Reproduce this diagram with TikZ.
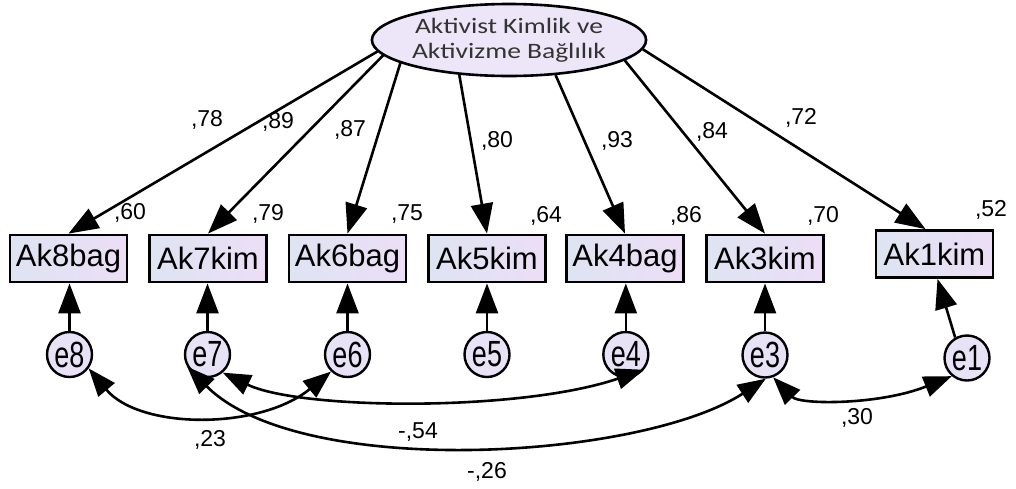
\documentclass[tikz,border=0pt]{standalone}
\usepackage{fontspec}
\setmainfont{Liberation Sans}
\newfontfamily\calib{Carlito}
\usetikzlibrary{arrows.meta,shapes.geometric}
\definecolor{boxL}{RGB}{222,228,242}
\definecolor{boxR}{RGB}{236,222,246}
\definecolor{cfill}{RGB}{232,226,246}
\definecolor{efill}{RGB}{236,230,248}
\tikzset{
  obs/.style={draw=black, line width=2.8pt, left color=boxL, right color=boxR, minimum width=117pt, minimum height=47pt, inner sep=0pt, font=\fontsize{31}{34}\selectfont},
  err/.style={circle, draw=black, line width=2.4pt, fill=cfill, minimum size=45pt, inner sep=0pt, font=\fontsize{27}{30}\selectfont},
  lat/.style={ellipse, draw=black, line width=2.6pt, fill=efill, minimum width=238pt, minimum height=72pt, inner sep=0pt, align=center, text=black!80, font=\calib\fontsize{22}{25}\selectfont},
  lab/.style={font=\fontsize{23}{25}\selectfont, inner sep=0pt},
  reg/.style={line width=2.6pt, -{Triangle[length=30pt,width=22pt]}},
  cov/.style={line width=2.6pt, {Triangle[length=28pt,width=21pt]}-{Triangle[length=28pt,width=21pt]}}
}
\begin{document}
\begin{tikzpicture}[x=1pt,y=-1pt]
\useasboundingbox (0,0) rectangle (1016,488);
\fill[white] (0,0) rectangle (1016,488);
\node[lat] (F) at (509,40) {\scalebox{1.25}[1]{Aktivist Kimlik ve}\\\scalebox{1.25}[1]{Aktivizme Bağlılık}};
\node[obs] (ak8) at (68.5,258.5) {Ak8bag};
\node[obs] (ak7) at (208,258.5) {Ak7kim};
\node[obs] (ak6) at (347.5,258.5) {Ak6bag};
\node[obs] (ak5) at (487,258.5) {Ak5kim};
\node[obs] (ak4) at (625,258.5) {Ak4bag};
\node[obs] (ak3) at (765,258.5) {Ak3kim};
\node[obs] (ak1) at (934.5,254) {Ak1kim};
\node[err] (e8) at (69.5,354.5) {\scalebox{1}[1.35]{e8}};
\node[err] (e7) at (207.5,354.5) {\scalebox{1}[1.35]{e7}};
\node[err] (e6) at (347.5,354.5) {\scalebox{1}[1.35]{e6}};
\node[err] (e5) at (487,354.5) {\scalebox{1}[1.35]{e5}};
\node[err] (e4) at (625.8,354.5) {\scalebox{1}[1.35]{e4}};
\node[err] (e3) at (765,355) {\scalebox{1}[1.35]{e3}};
\node[err] (e1) at (967,358) {\scalebox{1}[1.35]{e1}};
% loadings
\draw[reg] (F.185) -- (ak8.north);
\draw[reg] (F.187) -- (ak7.north);
\draw[reg] (F.192) -- (ak6.north);
\draw[reg] (F.215) -- (ak5.north);
\draw[reg] (F.323) -- (ak4.north);
\draw[reg] (F.350) -- (ak3.north);
\draw[reg] (F.356) -- ([xshift=-9pt]ak1.north);
% errors
\draw[reg] (e8.north) -- (e8.north |- ak8.south);
\draw[reg] (e7.north) -- (e7.north |- ak7.south);
\draw[reg] (e6.north) -- (e6.north |- ak6.south);
\draw[reg] (e5.north) -- (e5.north |- ak5.south);
\draw[reg] (e4.north) -- (e4.north |- ak4.south);
\draw[reg] (e3.north) -- (e3.north |- ak3.south);
\draw[reg] (e1.120) -- ([xshift=3pt]ak1.south);
% covariances
\draw[cov] (e8.-36) .. controls (140,430) and (260,430) .. (e6.-134);
\draw[cov] (e7.-50) .. controls (300,410) and (520,412) .. (e4.-40);
\draw[cov] (e7.-149) .. controls (300,480) and (640,460) .. (e3.-88);
\draw[cov] (e3.-70) .. controls (800,405) and (880,405) .. (e1.-130);
% loading labels
\node[lab] (l8) at (207,120) {,78};
\node[lab] (l7) at (278,122) {,89};
\node[lab] (l6) at (350,130) {,87};
\node[lab] (l5) at (497,141) {,80};
\node[lab] (l4) at (617,141) {,93};
\node[lab] (l3) at (712,132) {,84};
\node[lab] (l1) at (801,118) {,72};
% r-squared
\node[lab] (r8) at (130,213) {,60};
\node[lab] (r7) at (268,214) {,79};
\node[lab] (r6) at (407,214) {,75};
\node[lab] (r5) at (546,216) {,64};
\node[lab] (r4) at (686,216) {,86};
\node[lab] (r3) at (823,216) {,70};
\node[lab] (r1) at (991,210) {,52};
% covariance labels
\node[lab] (c86) at (210,440) {,23};
\node[lab] (c74) at (418,432) {-,54};
\node[lab] (c73) at (487,472) {-,26};
\node[lab] (c31) at (857,418) {,30};
\end{tikzpicture}
\end{document}
